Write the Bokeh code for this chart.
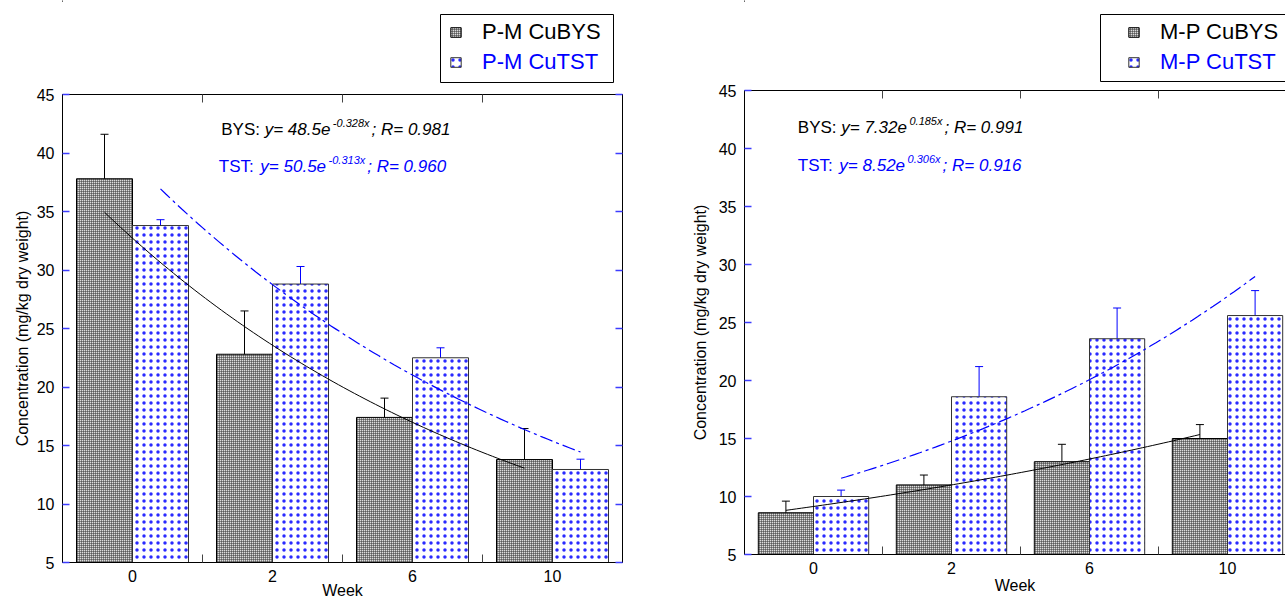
import numpy as np
from bokeh.plotting import figure
from bokeh.models import (ColumnDataSource, FixedTicker, LinearAxis, Range1d, Legend,
                          LegendItem, Whisker, TeeHead, Label)
from bokeh.layouts import row, column
from bokeh.embed import file_html
from bokeh.resources import INLINE

# ---------------- data ----------------
weeks = ["0", "2", "6", "10"]

pm_bys = [37.8, 22.8, 17.4, 13.8]
pm_bys_err = [3.8, 3.7, 1.65, 2.65]
pm_tst = [33.8, 28.8, 22.5, 12.95]
pm_tst_err = [0.5, 1.5, 0.85, 0.88]

mp_bys = [8.6, 11.0, 13.0, 15.0]
mp_bys_err = [1.0, 0.85, 1.5, 1.2]
mp_tst = [10.0, 18.6, 23.6, 25.6]
mp_tst_err = [0.55, 2.6, 2.65, 2.15]

# fitted curves y = a * exp(b * x), x = 1..4 (sampling index)
pm_bys_fit = (48.5, -0.328)
pm_tst_fit = (50.5, -0.313)
mp_bys_fit = (7.32, 0.185)
mp_tst_fit = (8.52, 0.306)

pm_eq = [("BYS: ", "y= 48.5e", "-0.328x", "; R= 0.981"),
         ("TST: ", "y= 50.5e", "-0.313x", "; R= 0.960")]
mp_eq = [("BYS: ", "y= 7.32e", "0.185x", "; R= 0.991"),
         ("TST: ", "y= 8.52e", "0.306x", "; R= 0.916")]

y_ticks = [5, 10, 15, 20, 25, 30, 35, 40, 45]

FONT = "Liberation Sans"
BLUE = "#0000ff"
TICK_BLUE = "#3c3cff"

BYS_STYLE = dict(fill_color="#dcdcdc", line_color="black", line_width=1,
                 hatch_pattern="+", hatch_color="#303030", hatch_scale=2,
                 hatch_weight=1)
TST_STYLE = dict(fill_color="white", line_color="#333333", line_width=1,
                 hatch_pattern=".", hatch_color="#2a2aff", hatch_scale=7,
                 hatch_weight=1.6)

# Arial / Liberation Sans advance widths (em)
AW = {' ': .278, ':': .278, ';': .278, '.': .278, '-': .333, '=': .584, 'B': .667,
      'Y': .667, 'S': .667, 'T': .611, 'R': .722, 'y': .5, 'e': .556, 'x': .5}
for d in "0123456789":
    AW[d] = .556


def tw(s, size):
    return sum(AW.get(c, .556) for c in s) * size


def make_legend_fig(H, cfg, box, glyph_x, names):
    """Legend strip drawn above the chart; coordinates are page pixels."""
    bl, br, _, _ = cfg["borders"]
    fl, fr = cfg["fleft"], cfg["fleft"] + cfg["fw"]
    p = figure(frame_width=cfg["fw"], frame_height=H, x_range=Range1d(fl, fr),
               y_range=Range1d(H, 0), output_backend="svg", toolbar_location=None,
               x_axis_location=None, y_axis_location=None,
               min_border_left=bl, min_border_right=br, min_border_top=0,
               min_border_bottom=0)
    p.xgrid.visible = False
    p.ygrid.visible = False
    p.outline_line_color = None
    p.background_fill_color = "white"
    p.border_fill_color = "white"
    bx0, bx1, by0, by1 = box
    p.quad(left=[bx0], right=[bx1], top=[by0], bottom=[by1], fill_color="white",
           line_color="black", line_width=1)
    rb = p.vbar(x=[-1000], top=[1], bottom=0, width=1, **BYS_STYLE)
    rt = p.vbar(x=[-1000], top=[1], bottom=0, width=1, **TST_STYLE)
    common = dict(margin=0, padding=0, spacing=0, label_height=24, glyph_width=13,
                  glyph_height=12, label_standoff=20, label_text_font=FONT,
                  label_text_font_size="22px", border_line_color=None,
                  background_fill_alpha=0)
    for name, r, col, cy in [(names[0], rb, "black", 33), (names[1], rt, BLUE, 63)]:
        leg = Legend(items=[LegendItem(label=name, renderers=[r])],
                     location=(glyph_x - fl, H - (cy + 12)),
                     label_text_color=col, **common)
        p.add_layout(leg, "center")
    return p


def make_chart(cfg, bys, bys_err, tst, tst_err, bys_fit, tst_fit, eqs):
    bl, br, bt, bb = cfg["borders"]
    x0, x1 = 0.5, cfg["x_end"]
    fw, fh = cfg["fw"], cfg["fh"]
    p = figure(frame_width=fw, frame_height=fh, x_range=Range1d(x0, x1),
               y_range=Range1d(5, 45), output_backend="svg", toolbar_location=None,
               min_border_left=bl, min_border_right=br, min_border_top=bt,
               min_border_bottom=bb)
    p.xgrid.visible = False
    p.ygrid.visible = False
    p.background_fill_color = "white"
    p.border_fill_color = "white"
    if cfg["outline"]:
        p.outline_line_color = "black"
        p.outline_line_width = 1
    else:
        p.outline_line_color = None

    sx = fw / (x1 - x0)
    sy = fh / 40.0

    pos = [i + 1 for i in range(len(weeks))]
    xb = [v - 0.2 for v in pos]
    xt = [v + 0.2 for v in pos]

    src_b = ColumnDataSource(dict(x=xb, top=bys,
                                  up=[a + e for a, e in zip(bys, bys_err)],
                                  lo=[a - e for a, e in zip(bys, bys_err)]))
    src_t = ColumnDataSource(dict(x=xt, top=tst,
                                  up=[a + e for a, e in zip(tst, tst_err)],
                                  lo=[a - e for a, e in zip(tst, tst_err)]))

    p.vbar(x="x", top="top", bottom=0, width=0.4, source=src_b, **BYS_STYLE)
    p.vbar(x="x", top="top", bottom=0, width=0.4, source=src_t, **TST_STYLE)

    # fitted curves
    xx = np.linspace(1, 4, 80)
    p.line(xx - 0.2, bys_fit[0] * np.exp(bys_fit[1] * xx), line_color="black",
           line_width=1)
    p.line(xx + 0.2, tst_fit[0] * np.exp(tst_fit[1] * xx), line_color=BLUE,
           line_width=1.2, line_dash="13 4 3 4")

    # error bars
    for src, col in [(src_b, "black"), (src_t, BLUE)]:
        p.add_layout(Whisker(source=src, base="x", upper="up", lower="lo",
                             line_color=col, line_width=1,
                             upper_head=TeeHead(size=8, line_color=col, line_width=1),
                             lower_head=TeeHead(size=8, line_color=col, line_width=1)))

    # axes
    minor_x = [1.5, 2.5, 3.5]
    xa = p.xaxis[0]
    xa.ticker = FixedTicker(ticks=pos, minor_ticks=minor_x)
    xa.major_label_overrides = {pp: w for pp, w in zip(pos, weeks)}
    xa.major_tick_in = 0
    xa.major_tick_out = 0
    xa.minor_tick_in = 8
    xa.minor_tick_out = 0
    xa.minor_tick_line_color = "#444444"
    xa.axis_line_color = "black"
    xa.major_label_standoff = 7
    xa.major_label_text_font = FONT
    xa.major_label_text_font_size = "16px"
    xa.major_label_text_color = "black"
    xa.axis_label = "Week"
    xa.axis_label_text_font = FONT
    xa.axis_label_text_font_size = "16px"
    xa.axis_label_text_font_style = "normal"
    xa.axis_label_text_color = "black"
    xa.axis_label_standoff = cfg["xlabel_standoff"]

    ya = p.yaxis[0]
    ya.ticker = FixedTicker(ticks=y_ticks)
    ya.major_tick_in = 7
    ya.major_tick_out = 0
    ya.major_tick_line_color = TICK_BLUE
    ya.major_tick_line_width = 1.5
    ya.minor_tick_line_color = None
    ya.axis_line_color = "black"
    ya.major_label_standoff = 8
    ya.major_label_text_font = FONT
    ya.major_label_text_font_size = "16px"
    ya.major_label_text_color = "black"
    ya.axis_label = "Concentration (mg/kg dry weight)"
    ya.axis_label_text_font = FONT
    ya.axis_label_text_font_size = "16px"
    ya.axis_label_text_font_style = "normal"
    ya.axis_label_text_color = "black"
    ya.axis_label_standoff = cfg["ylabel_standoff"]

    top = LinearAxis(ticker=FixedTicker(ticks=[], minor_ticks=minor_x),
                     major_tick_in=0, major_tick_out=0,
                     minor_tick_in=8, minor_tick_out=0, minor_tick_line_color="#444444",
                     major_label_standoff=0, axis_line_color="black")
    p.add_layout(top, "above")
    if cfg["right_axis"]:
        ra = LinearAxis(ticker=FixedTicker(ticks=[], minor_ticks=y_ticks),
                        major_tick_in=0, major_tick_out=0,
                        minor_tick_in=7, minor_tick_out=0,
                        minor_tick_line_color=TICK_BLUE, minor_tick_line_width=1.5,
                        major_label_standoff=0, axis_line_color="black")
        p.add_layout(ra, "right")

    # equations (positions given in page pixels, converted to data units)
    def dx(px):
        return x0 + (px - cfg["fleft"]) / sx

    def dy(py):
        return 45 - (py - cfg["ftop"]) / sy

    for (head, body, sup, tail), (ex, ey), col in zip(eqs, cfg["eq_pos"], ["black", BLUE]):
        xpx = ex
        p.add_layout(Label(x=dx(xpx), y=dy(ey), text=head, text_font=FONT,
                           text_font_size="17px", text_color=col))
        xpx += tw(head, 17)
        p.add_layout(Label(x=dx(xpx), y=dy(ey), text=body, text_font=FONT,
                           text_font_size="17px", text_font_style="italic",
                           text_color=col))
        xpx += tw(body, 17) + 2.5
        p.add_layout(Label(x=dx(xpx), y=dy(ey - 10), text=sup, text_font=FONT,
                           text_font_size="11px", text_font_style="italic",
                           text_color=col))
        xpx += tw(sup, 11) + 2
        p.add_layout(Label(x=dx(xpx), y=dy(ey), text=tail, text_font=FONT,
                           text_font_size="17px", text_font_style="italic",
                           text_color=col))
    return p


LEG_H = 84
W1 = 652

left_cfg = dict(borders=(62, W1 - 62 - 560, 94 - LEG_H, 601 - 562), fw=560, fh=468,
                x_end=4.5, outline=True, right_axis=True, ylabel_standoff=3,
                xlabel_standoff=-3, fleft=62, ftop=94,
                eq_pos=[(220.7, 138.3), (218.3, 175.7)])
right_cfg = dict(borders=(744 - W1, 0, 90 - LEG_H, 601 - 554), fw=1285 - 744, fh=464,
                 x_end=0.5 + (1285 - 744) / 138.0, outline=False, right_axis=False,
                 ylabel_standoff=7, xlabel_standoff=0, fleft=744, ftop=90,
                 eq_pos=[(797.3, 136.7), (797.3, 174.0)])

p1 = make_chart(left_cfg, pm_bys, pm_bys_err, pm_tst, pm_tst_err, pm_bys_fit,
                pm_tst_fit, pm_eq)
p2 = make_chart(right_cfg, mp_bys, mp_bys_err, mp_tst, mp_tst_err, mp_bys_fit,
                mp_tst_fit, mp_eq)
l1 = make_legend_fig(LEG_H, left_cfg, (440, 613, 14, 82), 449, ["P-M CuBYS", "P-M CuTST"])
l2 = make_legend_fig(LEG_H, right_cfg, (1100, 1300, 14, 81), 1127, ["M-P CuBYS", "M-P CuTST"])

layout = row(column(l1, p1), column(l2, p2))
open("out.html", "w").write(file_html(layout, INLINE))
